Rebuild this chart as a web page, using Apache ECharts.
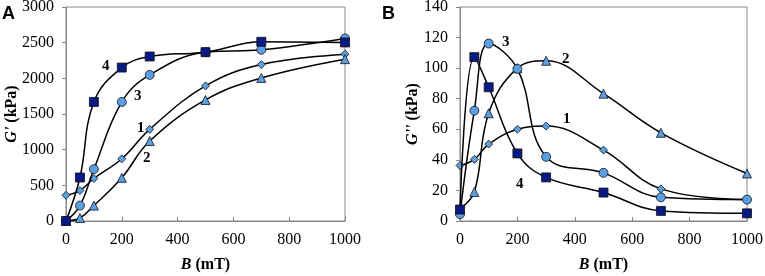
<!DOCTYPE html>
<html>
<head>
<meta charset="utf-8">
<script src="https://cdn.jsdelivr.net/npm/echarts@6/dist/echarts.min.js"></script>
<style>html,body{margin:0;padding:0;background:#fff}#c{width:765px;height:276px}</style>
</head>
<body>
<div id="c"></div>
<script>
const B = [0, 50, 100, 200, 300, 500, 700, 1000];
const xTicks = [0, 200, 400, 600, 800, 1000];
// Panel A: G' (kPa)
const gp1 = [361, 427, 596, 872, 1285, 1894, 2193, 2339];
const gp2 = [0, 42, 216, 605, 1121, 1697, 2006, 2269];
const gp3 = [0, 216, 727, 1669, 2048, 2367, 2400, 2559];
const gp4 = [0, 610, 1669, 2151, 2306, 2367, 2512, 2503];
// Panel B: G'' (kPa)
const gpp1 = [36.3, 40.3, 50.3, 60, 62.1, 46.4, 21, 14];
const gpp2 = [8, 19, 70.5, 100, 104.8, 83.3, 57.7, 31.1];
const gpp3 = [4.5, 72.2, 116.1, 99.5, 42, 31.5, 15.5, 14];
const gpp4 = [7.5, 107.2, 87.5, 44.2, 28.5, 18.6, 6.6, 5];
const curveNames = ['1', '2', '3', '4'];

const FONT = 'Liberation Serif';
const light = '#5b9fe3';
const navy = '#0a1a85';
const symbols = [
  {symbol: 'diamond', size: 8, color: light},
  {symbol: 'triangle', size: 9, color: light},
  {symbol: 'circle', size: 9, color: light},
  {symbol: 'rect', size: 9, color: navy}
];

function mk(data, idx, gi) {
  const s = symbols[idx];
  return {
    type: 'line', name: curveNames[idx], xAxisIndex: gi, yAxisIndex: gi,
    data: B.map((b, i) => [b, data[i]]),
    smooth: 0.4,
    symbol: s.symbol, symbolSize: s.size,
    lineStyle: {color: '#000', width: 1.5},
    itemStyle: {color: s.color, borderColor: '#111', borderWidth: 0.8},
    z: 2 + idx
  };
}

const axisLabel = {fontFamily: FONT, fontSize: 16, color: '#000', formatter: v => String(v)};
const nameStyle = {fontFamily: FONT, fontSize: 16, fontWeight: 'bold', color: '#000',
  rich: {i: {fontFamily: FONT, fontSize: 16, fontWeight: 'bold', fontStyle: 'italic', color: '#000'}}};
function xAx(gi) {
  return {
    type: 'value', gridIndex: gi, min: 0, max: 1000, interval: 200,
    axisLine: {show: true, lineStyle: {color: '#888'}},
    axisTick: {show: true, inside: true, length: 4, lineStyle: {color: '#888'}},
    splitLine: {show: false},
    axisLabel: Object.assign({margin: 11}, axisLabel),
    name: '{i|B} (mT)', nameLocation: 'middle', nameGap: 36, nameMoveOverlap: false,
    nameTextStyle: nameStyle
  };
}
function yAx(gi, max, interval, name, gap) {
  return {
    type: 'value', gridIndex: gi, min: 0, max: max, interval: interval,
    axisLine: {show: true, lineStyle: {color: '#888'}},
    axisTick: {show: true, inside: false, length: 4, lineStyle: {color: '#888'}},
    splitLine: {show: false},
    axisLabel: Object.assign({margin: 12}, axisLabel),
    name: name, nameLocation: 'middle', nameGap: gap, nameRotate: 90, nameMoveOverlap: false,
    nameTextStyle: nameStyle
  };
}

function txt(x, y, t, opts) {
  return {type: 'text', left: x, top: y, silent: true,
    style: Object.assign({text: t, fill: '#000', font: 'bold 15px "Liberation Serif"'}, opts || {})};
}

const chart = echarts.init(document.getElementById('c'), null, {renderer: 'canvas'});
chart.setOption({
  animation: false,
  backgroundColor: '#fff',
  grid: [
    {left: 66, top: 7, width: 279, height: 214, show: true, borderColor: '#888', borderWidth: 1, backgroundColor: 'transparent', containLabel: false, outerBoundsMode: 'none'},
    {left: 460, top: 7, width: 287, height: 214, show: true, borderColor: '#888', borderWidth: 1, backgroundColor: 'transparent', containLabel: false, outerBoundsMode: 'none'}
  ],
  xAxis: [xAx(0), xAx(1)],
  yAxis: [yAx(0, 3000, 500, "{i|G'} (kPa)", 46), yAx(1, 140, 20, "{i|G''} (kPa)", 39)],
  series: [
    mk(gp1, 0, 0), mk(gp2, 1, 0), mk(gp3, 2, 0), mk(gp4, 3, 0),
    mk(gpp1, 0, 1), mk(gpp2, 1, 1), mk(gpp3, 2, 1), mk(gpp4, 3, 1)
  ],
  graphic: [
    txt(2, 5, 'A', {font: 'bold 18px "Liberation Sans"'}),
    txt(382, 5, 'B', {font: 'bold 18px "Liberation Sans"'}),
    txt(102, 59, '4'), txt(134, 89, '3'), txt(137, 121, '1'), txt(143, 151, '2'),
    txt(502, 35, '3'), txt(562, 52, '2'), txt(563, 112, '1'), txt(516, 177, '4')
  ]
});
</script>
</body>
</html>
